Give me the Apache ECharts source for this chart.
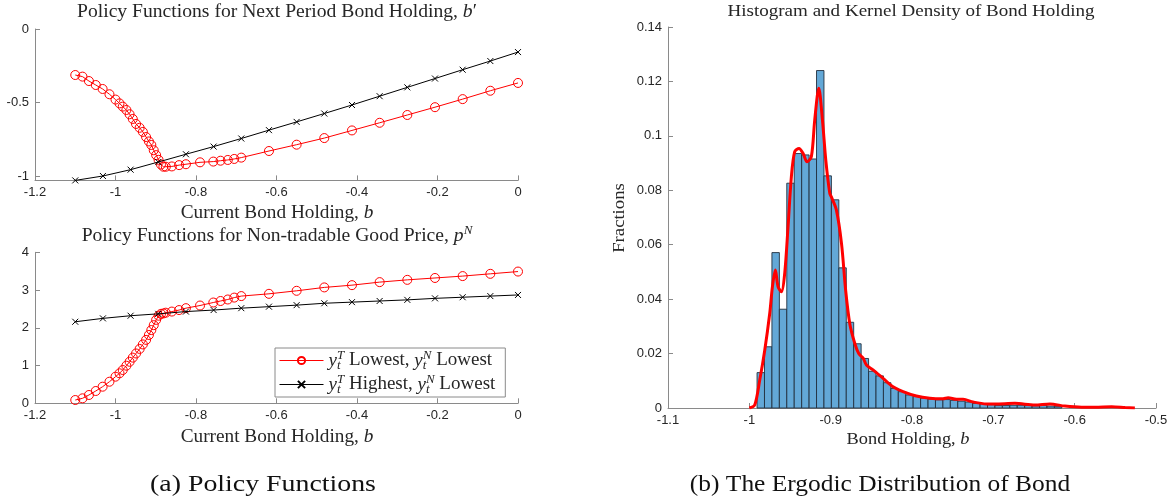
<!DOCTYPE html>
<html>
<head>
<meta charset="utf-8">
<script src="https://cdn.jsdelivr.net/npm/echarts@6/dist/echarts.min.js"></script>
<style>
  html, body { margin: 0; padding: 0; background: #ffffff; }
  #chart { width: 1172px; height: 504px; }
</style>
</head>
<body>
<div id="chart"></div>
<script>
// ---- Policy functions: current bond holding grid and responses ----
// State (y^T lowest, y^N lowest): endogenous grid, denser around the constraint kink
const lowBond = [-1.1, -1.082, -1.066, -1.049, -1.032, -1.015, -1.0, -0.99, -0.982, -0.973,
  -0.965, -0.957, -0.949, -0.94, -0.932, -0.924, -0.917, -0.911, -0.905, -0.899,
  -0.893, -0.887, -0.881, -0.875, -0.86, -0.842, -0.825, -0.79, -0.757, -0.739,
  -0.721, -0.705, -0.6875, -0.61875, -0.55, -0.48125, -0.4125, -0.34375, -0.275, -0.20625,
  -0.1375, -0.06875, 0];
const lowNextBond = [-0.313, -0.324, -0.354, -0.381, -0.408, -0.444, -0.48, -0.506, -0.528, -0.551,
  -0.58, -0.612, -0.646, -0.672, -0.70, -0.735, -0.765, -0.789, -0.825, -0.858,
  -0.89, -0.922, -0.937, -0.937, -0.935, -0.926, -0.92, -0.907, -0.902, -0.896,
  -0.891, -0.884, -0.875, -0.83, -0.787, -0.742, -0.69, -0.638, -0.585, -0.532,
  -0.477, -0.42, -0.367];
const lowPrice = [0.087, 0.132, 0.22, 0.326, 0.44, 0.572, 0.705, 0.795, 0.882, 0.996,
  1.10, 1.21, 1.32, 1.44, 1.56, 1.68, 1.81, 1.94, 2.07, 2.21,
  2.32, 2.37, 2.38, 2.40, 2.43, 2.47, 2.52, 2.59, 2.67, 2.71,
  2.75, 2.80, 2.84, 2.90, 2.98, 3.07, 3.13, 3.21, 3.27, 3.32,
  3.37, 3.43, 3.49];

// State (y^T highest, y^N lowest): regular grid
const highBond = [-1.1, -1.03125, -0.9625, -0.89375, -0.825, -0.75625, -0.6875, -0.61875, -0.55,
  -0.48125, -0.4125, -0.34375, -0.275, -0.20625, -0.1375, -0.06875, 0];
const highNextBond = [-1.03, -1.0, -0.957, -0.905, -0.852, -0.80, -0.745, -0.688, -0.632,
  -0.575, -0.517, -0.457, -0.397, -0.337, -0.277, -0.218, -0.157];
const highPrice = [2.16, 2.25, 2.32, 2.37, 2.43, 2.47, 2.52, 2.56, 2.60,
  2.65, 2.68, 2.71, 2.74, 2.78, 2.81, 2.84, 2.87];

const nextBondTicks = [-1, -0.5, 0];

// ---- Ergodic distribution of bond holding ----
const histStart = -0.9905;
const histBinWidth = 0.00914;
const histFractions = [0.013, 0.0225, 0.0571, 0.0363, 0.0826, 0.0935, 0.093, 0.0915, 0.124, 0.0853,
  0.0765, 0.0515, 0.0315, 0.0236, 0.0182, 0.0135, 0.0118, 0.0093, 0.0072, 0.006,
  0.0048, 0.0042, 0.0036, 0.0033, 0.003, 0.0031, 0.0028, 0.0025, 0.0022, 0.0017,
  0.0016, 0.0012, 0.0009, 0.0009, 0.001, 0.001, 0.0009, 0.0008, 0.0009, 0.0007, 0.0005];

const kdeBond = [-1.0, -0.9934, -0.9872, -0.981, -0.9749, -0.9716, -0.968, -0.9647, -0.9605, -0.9565,
  -0.9524, -0.9483, -0.9442, -0.9389, -0.934, -0.929, -0.9237, -0.9196, -0.9146, -0.9101,
  -0.906, -0.9011, -0.899, -0.893, -0.8867, -0.8815, -0.8765, -0.8704, -0.8655, -0.8601,
  -0.856, -0.8479, -0.8356, -0.8233, -0.811, -0.7946, -0.7781, -0.7618, -0.7556, -0.7453,
  -0.7371, -0.7249, -0.7084, -0.6981, -0.6735, -0.649, -0.6305, -0.612, -0.5915, -0.575,
  -0.5545, -0.538, -0.526];
const kdeDensity = [0, 0.0011, 0.0103, 0.0213, 0.0348, 0.0446, 0.0507, 0.0446, 0.0427, 0.0495,
  0.0666, 0.085, 0.0942, 0.0954, 0.0936, 0.0905, 0.0924, 0.1058, 0.1175, 0.1058,
  0.0911, 0.0789, 0.0775, 0.0728, 0.0605, 0.043, 0.031, 0.0238, 0.02, 0.0183,
  0.0158, 0.014, 0.0109, 0.0078, 0.006, 0.0044, 0.0036, 0.0034, 0.0038, 0.0032,
  0.0032, 0.0022, 0.0015, 0.0015, 0.0017, 0.0011, 0.0015, 0.0007, 0.0003, 0.0003,
  0.0005, 0.0002, 0];

// ---- styling ----
const SERIF = "'Liberation Serif', 'DejaVu Serif', serif";
const SANS = "'Liberation Sans', Arial, sans-serif";
const AXIS_GRAY = '#8a8a8a';
const TEXT_DARK = '#262626';
const LOW_NAME = 'lowState';
const HIGH_NAME = 'highState';

const zip = (xs, ys) => xs.map((x, i) => [x, ys[i]]);

function mathRich(size, color) {
  const small = Math.round(size * 0.68);
  const c = color || TEXT_DARK;
  return {
    r: { fontFamily: SERIF, fontSize: size, color: c, lineHeight: size + 4 },
    i: { fontFamily: SERIF, fontSize: size, fontStyle: 'italic', color: c, lineHeight: size + 4 },
    sup: { fontFamily: SERIF, fontSize: small, fontStyle: 'italic', color: c, verticalAlign: 'top', lineHeight: small },
    sub: { fontFamily: SERIF, fontSize: small, fontStyle: 'italic', color: c, verticalAlign: 'bottom', lineHeight: small, width: 0 }
  };
}

// Serif label drawn as a graphic text, widened slightly to the proportions of the TeX face
function serifLabel(text, cx, cy, size, stretch, rotation, color) {
  return {
    type: 'text', x: cx, y: cy, scaleX: stretch, rotation: rotation || 0, silent: true,
    style: {
      text: text, fontFamily: SERIF, fontSize: size, fill: color || TEXT_DARK,
      align: 'center', verticalAlign: 'middle', rich: mathRich(size, color)
    }
  };
}

function valueAxis(gridIndex, extra) {
  return Object.assign({
    type: 'value',
    gridIndex: gridIndex,
    axisLine: { show: true, onZero: false, lineStyle: { color: AXIS_GRAY, width: 1 } },
    axisTick: { show: true, inside: true, length: 5, lineStyle: { color: AXIS_GRAY } },
    axisLabel: { color: TEXT_DARK, fontFamily: SANS, fontSize: 13, margin: 6 },
    splitLine: { show: false }
  }, extra);
}

const crossSymbol = 'path://M0,0L10,10M10,0L0,10';

function lowSeries(xi, yi, values) {
  return {
    name: LOW_NAME, type: 'line', xAxisIndex: xi, yAxisIndex: yi,
    data: zip(lowBond, values),
    symbol: 'circle', symbolSize: 9,
    itemStyle: { color: 'rgba(255,255,255,0)', borderColor: '#ff0000', borderWidth: 1 },
    lineStyle: { color: '#ff0000', width: 1 },
    emphasis: { disabled: true }, z: 3
  };
}
function highSeries(xi, yi, values) {
  return {
    name: HIGH_NAME, type: 'line', xAxisIndex: xi, yAxisIndex: yi,
    data: zip(highBond, values),
    symbol: crossSymbol, symbolSize: 6,
    itemStyle: { color: '#000000', borderColor: '#000000', borderWidth: 1 },
    lineStyle: { color: '#000000', width: 1 },
    emphasis: { disabled: true }, z: 4
  };
}

const histData = histFractions.map((f, k) => [histStart + k * histBinWidth, histStart + (k + 1) * histBinWidth, f]);

const chart = echarts.init(document.getElementById('chart'), null, { renderer: 'canvas' });

chart.setOption({
  animation: false,
  backgroundColor: '#ffffff',
  grid: [
    { left: 35, top: 29, width: 483, height: 151.4 },
    { left: 35, top: 252.3, width: 483, height: 151 },
    { left: 668, top: 27, width: 488, height: 381 }
  ],
  xAxis: [
    valueAxis(0, { min: -1.2, max: 0, interval: 0.2 }),
    valueAxis(1, { min: -1.2, max: 0, interval: 0.2 }),
    valueAxis(2, { min: -1.1, max: -0.5, interval: 0.1 })
  ],
  yAxis: [
    valueAxis(0, { min: -1.03, max: 0,
      axisTick: { show: true, inside: true, length: 5, lineStyle: { color: AXIS_GRAY }, customValues: nextBondTicks },
      axisLabel: { color: TEXT_DARK, fontFamily: SANS, fontSize: 13, margin: 6, customValues: nextBondTicks } }),
    valueAxis(1, { min: 0, max: 4, interval: 1 }),
    valueAxis(2, { min: 0, max: 0.14, interval: 0.02 })
  ],
  legend: {
    data: [LOW_NAME, HIGH_NAME],
    orient: 'vertical',
    left: 275, top: 348,
    itemWidth: 44, itemHeight: 9, itemGap: 1,
    padding: [1, 10, 1, 4],
    backgroundColor: '#ffffff',
    borderColor: '#8a8a8a', borderWidth: 1, borderRadius: 0,
    selectedMode: false,
    lineStyle: { width: 1 },
    formatter: function (name) {
      return name === LOW_NAME
        ? '{i|y}{sub|t}{sup|T}{r| Lowest, }{i|y}{sub|t}{sup|N}{r| Lowest}'
        : '{i|y}{sub|t}{sup|T}{r| Highest, }{i|y}{sub|t}{sup|N}{r| Lowest}';
    },
    textStyle: { fontFamily: SERIF, fontSize: 19, color: TEXT_DARK, rich: mathRich(19) }
  },
  series: [
    lowSeries(0, 0, lowNextBond),
    highSeries(0, 0, highNextBond),
    lowSeries(1, 1, lowPrice),
    highSeries(1, 1, highPrice),
    {
      type: 'custom', xAxisIndex: 2, yAxisIndex: 2,
      data: histData,
      encode: { x: [0, 1], y: 2 },
      renderItem: function (params, api) {
        const topLeft = api.coord([api.value(0), api.value(2)]);
        const bottomRight = api.coord([api.value(1), 0]);
        return {
          type: 'rect',
          shape: { x: topLeft[0], y: topLeft[1], width: bottomRight[0] - topLeft[0], height: bottomRight[1] - topLeft[1] },
          style: { fill: '#63a8d7', stroke: '#22303e', lineWidth: 0.9 }
        };
      },
      z: 2
    },
    {
      type: 'line', xAxisIndex: 2, yAxisIndex: 2,
      data: zip(kdeBond, kdeDensity),
      symbol: 'none', smooth: 0.3,
      lineStyle: { color: '#ff0000', width: 3 },
      z: 5
    }
  ],
  graphic: [
    serifLabel('Policy Functions for Next Period Bond Holding, {i|b}{r|′}', 277, 12, 18, 1.09),
    serifLabel('Current Bond Holding, {i|b}', 277, 213, 18, 1.07),
    serifLabel('Policy Functions for Non-tradable Good Price, {i|p}{sup|N}', 277, 236, 18, 1.09),
    serifLabel('Current Bond Holding, {i|b}', 277, 437, 18, 1.07),
    serifLabel('Histogram and Kernel Density of Bond Holding', 911, 12, 17, 1.12),
    serifLabel('Bond Holding, {i|b}', 908, 440, 17, 1.08),
    serifLabel('Fractions', 620, 218, 17, 1.1, Math.PI / 2),
    serifLabel('(a) Policy Functions', 263, 485, 24, 1.16, 0, '#111111'),
    serifLabel('(b) The Ergodic Distribution of Bond', 880, 485, 24, 1.06, 0, '#111111')
  ]
});
</script>
</body>
</html>
